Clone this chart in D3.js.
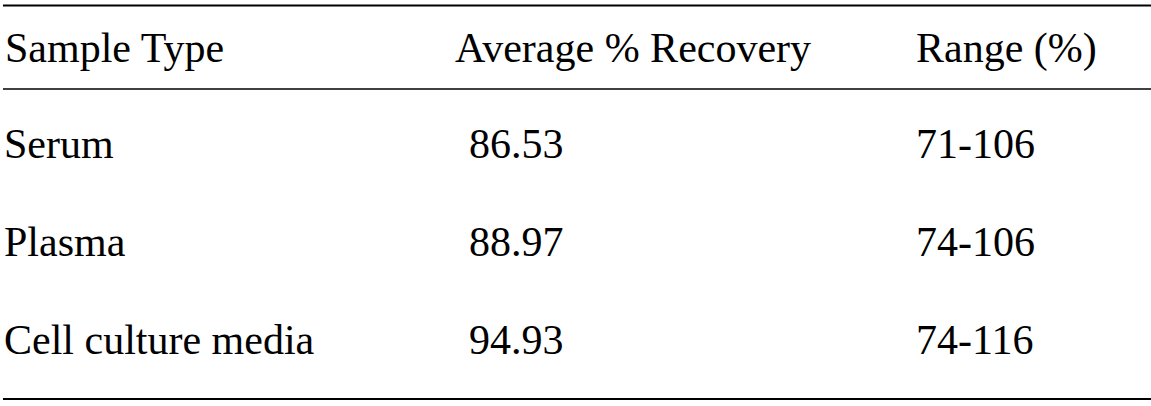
<!DOCTYPE html>
<html>
<head>
<meta charset="utf-8">
<script src="https://cdn.jsdelivr.net/npm/d3@7"></script>
<style>
html,body{margin:0;padding:0;background:#fff;}
svg{display:block;}
</style>
</head>
<body>
<svg id="chart" width="1151" height="406"></svg>
<script>
const headers = ["Sample Type", "Average % Recovery", "Range (%)"];
const sampleTypes = ["Serum", "Plasma", "Cell culture media"];
const averageRecovery = ["86.53", "88.97", "94.93"];
const ranges = ["71-106", "74-106", "74-116"];

const W = 1151, H = 406;
const FONT = "'Times New Roman'";
const FS = 42;
const svg = d3.select("#chart");

const y = d3.scalePoint().domain(sampleTypes).range([158, 354]);
const headerY = 61.5;
const colHeaderX = [5, 455, 916];
const colValueX = [4, 469, 916];

const rules = [
  {y: 5.5, w: 2.2},
  {y: 89, w: 1.6},
  {y: 399, w: 2.2}
];
svg.selectAll("line.rule").data(rules).enter().append("line")
  .attr("class", "rule")
  .attr("x1", 3).attr("x2", W)
  .attr("y1", d => d.y).attr("y2", d => d.y)
  .attr("stroke", "#000").attr("stroke-width", d => d.w);

svg.selectAll("text.hdr").data(headers).enter().append("text")
  .attr("class", "hdr")
  .attr("font-family", FONT)
  .attr("font-size", FS)
  .attr("fill", "#000")
  .attr("x", (d, i) => colHeaderX[i])
  .attr("y", headerY)
  .text(d => d);

const rows = sampleTypes.map((s, i) => [s, averageRecovery[i], ranges[i]]);
const g = svg.selectAll("g.row").data(rows).enter().append("g")
  .attr("class", "row")
  .attr("transform", d => `translate(0,${y(d[0])})`);
g.selectAll("text").data(d => d).enter().append("text")
  .attr("font-family", FONT)
  .attr("font-size", FS)
  .attr("fill", "#000")
  .attr("x", (d, i) => colValueX[i])
  .attr("y", 0)
  .text(d => d);
</script>
</body>
</html>
